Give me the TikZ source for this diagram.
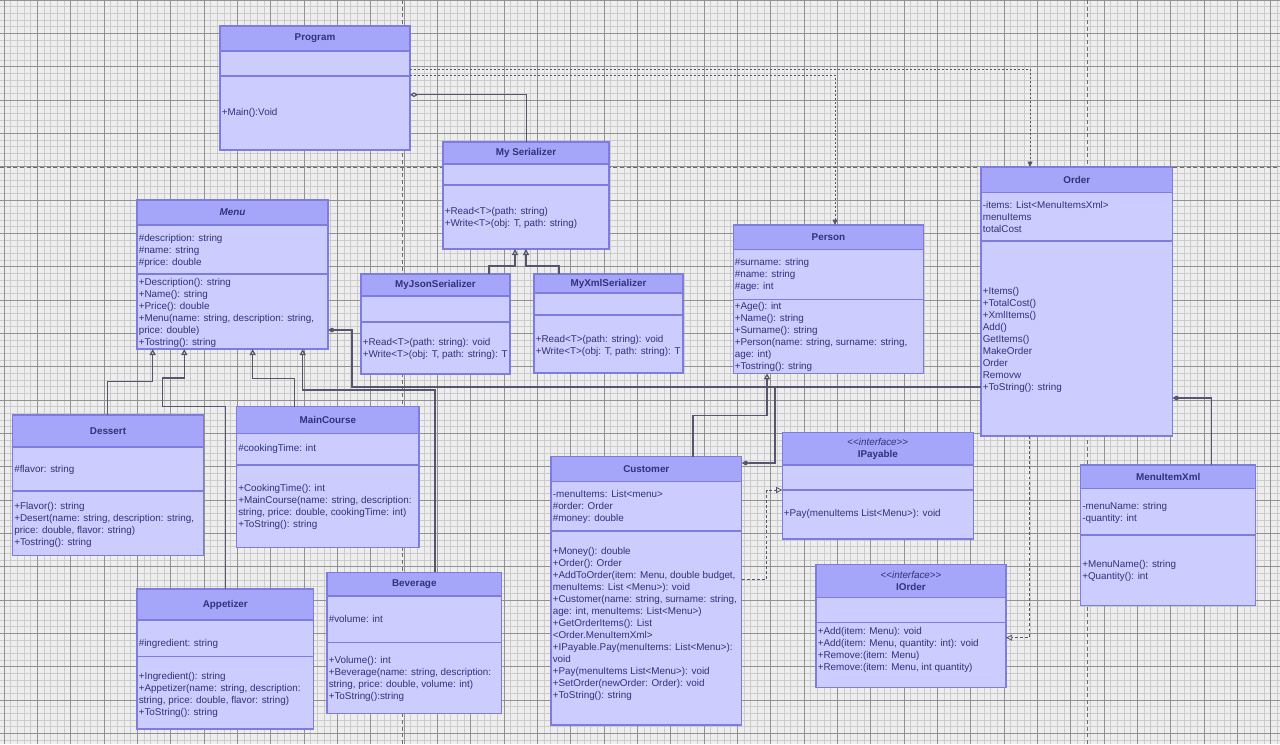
\documentclass[tikz,border=0pt]{standalone}
\usepackage{fontspec}
\setmainfont{Liberation Sans}
\usetikzlibrary{arrows.meta, calc}

\definecolor{bgcol}{RGB}{238,238,238}
\definecolor{minorcol}{RGB}{203,203,203}
\definecolor{majorcol}{RGB}{145,145,145}
\definecolor{breakcol}{RGB}{110,110,110}
\definecolor{bodycol}{RGB}{204,204,255}
\definecolor{headcol}{RGB}{165,165,250}
\definecolor{edgecol}{RGB}{125,125,225}
\definecolor{txtcol}{RGB}{50,50,120}
\definecolor{linkcol}{RGB}{85,85,110}

\tikzset{
  minorgrid/.style={draw=minorcol, line width=0.35pt},
  majorgrid/.style={draw=majorcol, line width=0.7pt},
  pagebreak/.style={draw=breakcol, line width=0.6pt, dash pattern=on 3pt off 2pt},
  clsbox/.style={fill=bodycol, anchor=north west, inner sep=0pt, outer sep=0pt},
  hdfill/.style={fill=headcol},
  sepline/.style={draw=edgecol, line width=1pt},
  edgeline/.style={draw=edgecol, line width=1pt},
  hd/.style={inner sep=0pt, font=\fontsize{7.4}{9}\selectfont\bfseries, text=txtcol},
  hdi/.style={hd, font=\fontsize{7.4}{9}\selectfont\bfseries\itshape},
  ifc/.style={inner sep=0pt, align=center, font=\fontsize{7.4}{9}\selectfont, text=txtcol},
  body/.style={anchor=north west, inner sep=0pt, align=left,
    font=\fontsize{7.4}{9}\selectfont, text=txtcol},
  link/.style={draw=linkcol, line width=0.9pt},
  genl/.style={link, -{Triangle[open, length=4.6pt, width=4.6pt]}},
  comp/.style={link, {Diamond[length=6pt, width=3.6pt]}-},
  aggr/.style={link, {Diamond[open, length=6pt, width=3.6pt]}-},
  dep/.style={link, line width=0.6pt, dash pattern=on 1.5pt off 1.5pt,
    -{Triangle[length=4pt, width=3.6pt]}},
  real/.style={link, line width=0.6pt, dash pattern=on 2.2pt off 1.6pt,
    -{Triangle[open, length=4.6pt, width=4.6pt]}}
}

% class box: name, x, y, width, height, header height, attribute height
\newcommand{\umlbox}[7]{%
  \node[clsbox, minimum width=#4*0.75pt, minimum height=#5*0.75pt] (#1) at (#2,#3) {};
  \fill[hdfill] (#1.north west) rectangle ($(#1.north east)+(0,#6)$);
  \draw[sepline] ($(#1.north west)+(0,#6)$) -- ($(#1.north east)+(0,#6)$)
    ($(#1.north west)+(0,#6+#7)$) -- ($(#1.north east)+(0,#6+#7)$);
  \draw[edgeline] (#1.north west) rectangle (#1.south east);
}

\begin{document}
\begin{tikzpicture}[x=0.75pt,y=-0.75pt]
\useasboundingbox (0,0) rectangle (1280,744);

% background
\fill[bgcol] (0,0) rectangle (1280,744);
\draw[minorgrid] \foreach \k in {0,...,192} {({-2.6667+6.6667*\k},0) -- ++(0,744)};
\draw[minorgrid] \foreach \k in {0,...,112} {(0,{6.6667*\k}) -- ++(1280,0)};
\draw[majorgrid] \foreach \k in {0,...,38} {({4+33.3333*\k},0) -- ++(0,744)};
\draw[majorgrid] \foreach \k in {0,...,22} {(0,{33.3333*\k}) -- ++(1280,0)};
\draw[pagebreak] (402,0) -- (402,744);
\draw[pagebreak] (1087,0) -- (1087,744);
\draw[pagebreak] (0,167) -- (1280,167);

% boxes
\umlbox{program}{220}{26}{190}{124}{25}{25}
\umlbox{myser}{443}{142}{166}{107}{22}{21}
\umlbox{myjson}{361}{274}{149}{100}{22}{26}
\umlbox{myxml}{534}{274}{149}{99}{19}{22}
\umlbox{menu}{137}{200}{191}{149}{25}{49}
\umlbox{dessert}{12.7}{415}{190.6}{140.7}{32}{44}
\umlbox{maincourse}{236.7}{406.7}{182.3}{141}{26.6}{31.7}
\umlbox{appetizer}{137}{589}{176.7}{140}{31}{36.7}
\umlbox{beverage}{327}{572.3}{174.7}{141}{23.7}{46.7}
\umlbox{person}{733.2}{225}{190.4}{148.3}{24.3}{50}
\umlbox{order}{981}{167}{191.5}{269}{25.3}{48.7}
\umlbox{mixml}{1080.7}{465}{175}{140.7}{23.3}{46.7}
\umlbox{customer}{551}{456.7}{190.7}{268.3}{25}{49.3}
\umlbox{ipay}{782.3}{432.3}{191}{106.7}{32.7}{25}
\umlbox{iorder}{816}{564.7}{190}{123}{32.6}{25}

% titles
\node[hd] (program-h) at (315,38.5) {Program};
\node[hd] (myser-h) at (526,153) {My Serializer};
\node[hd] (myjson-h) at (435.5,285) {MyJsonSerializer};
\node[hd] (myxml-h) at (608.5,283.5) {MyXmlSerializer};
\node[hdi] (menu-h) at (232.5,212.5) {Menu};
\node[hd] (dessert-h) at (108,431) {Dessert};
\node[hd] (maincourse-h) at (327.8,420) {MainCourse};
\node[hd] (appetizer-h) at (225.3,604.5) {Appetizer};
\node[hd] (beverage-h) at (414.3,584.2) {Beverage};
\node[hd] (person-h) at (828.4,237.2) {Person};
\node[hd] (order-h) at (1076.8,179.7) {Order};
\node[hd] (mixml-h) at (1168.2,476.7) {MenuItemXml};
\node[hd] (customer-h) at (646.3,469.2) {Customer};
\node[ifc] (ipay-h) at (877.8,448.5) {<\kern0pt<\textit{interface}>\kern0pt>\\\textbf{IPayable}};
\node[ifc] (iorder-h) at (911,580.5) {<\kern0pt<\textit{interface}>\kern0pt>\\\textbf{IOrder}};

% members
\node[body] (program-ops) at (221.5,106.6) {\strut+Main():Void};
\node[body] (myser-ops) at (444.5,205.6) {\strut+Read<T>(path: string)\\+Write<T>(obj: T, path: string)};
\node[body] (myjson-ops) at (362.5,336.6) {\strut+Read<T>(path: string): void\\+Write<T>(obj: T, path: string): T};
\node[body] (myxml-ops) at (535.5,333.6) {\strut+Read<T>(path: string): void\\+Write<T>(obj: T, path: string): T};
\node[body] (menu-attr) at (138.5,233.3) {\strut\#description: string\\\#name: string\\\#price: double};
\node[body] (menu-ops) at (138.5,276.6) {\strut+Description(): string\\+Name(): string\\+Price(): double\\+Menu(name: string, description: string,\\price: double)\\+Tostring(): string};
\node[body] (dessert-attr) at (14,463.6) {\strut\#flavor: string};
\node[body] (dessert-ops) at (14,500.6) {\strut+Flavor(): string\\+Desert(name: string, description: string,\\price: double, flavor: string)\\+Tostring(): string};
\node[body] (maincourse-attr) at (238,443.3) {\strut\#cookingTime: int};
\node[body] (maincourse-ops) at (238,483.3) {\strut+CookingTime(): int\\+MainCourse(name: string, description:\\string, price: double, cookingTime: int)\\+ToString(): string};
\node[body] (appetizer-attr) at (138.5,637.9) {\strut\#ingredient: string};
\node[body] (appetizer-ops) at (138.5,670.6) {\strut+Ingredient(): string\\+Appetizer(name: string, description:\\string, price: double, flavor: string)\\+ToString(): string};
\node[body] (beverage-attr) at (328.5,613.9) {\strut\#volume: int};
\node[body] (beverage-ops) at (328.5,654.9) {\strut+Volume(): int\\+Beverage(name: string, description:\\string, price: double, volume: int)\\+ToString():string};
\node[body] (person-attr) at (734.5,257.3) {\strut\#surname: string\\\#name: string\\\#age: int};
\node[body] (person-ops) at (734.5,301.3) {\strut+Age(): int\\+Name(): string\\+Surname(): string\\+Person(name: string, surname: string,\\age: int)\\+Tostring(): string};
\node[body] (order-attr) at (982.5,199.6) {\strut-items: List<MenuItemsXml>\\menuItems\\totalCost};
\node[body] (order-ops) at (982.5,286.3) {\strut+Items()\\+TotalCost()\\+XmlItems()\\Add()\\GetItems()\\MakeOrder\\Order\\Removw\\+ToString(): string};
\node[body] (mixml-attr) at (1082,500.6) {\strut-menuName: string\\-quantity: int};
\node[body] (mixml-ops) at (1082,558.9) {\strut+MenuName(): string\\+Quantity(): int};
\node[body] (customer-attr) at (552.5,488.6) {\strut-menuItems: List<menu>\\\#order: Order\\\#money: double};
\node[body] (customer-ops) at (552.5,546.3) {\strut+Money(): double\\+Order(): Order\\+AddToOrder(item: Menu, double budget,\\menuItems: List <Menu>): void\\+Customer(name: string, surname: string,\\age: int, menuItems: List<Menu>)\\+GetOrderItems(): List\\<Order.MenuItemXml>\\+IPayable.Pay(menuItems: List<Menu>):\\void\\+Pay(menuItems List<Menu>): void\\+SetOrder(newOrder: Order): void\\+ToString(): string};
\node[body] (ipay-ops) at (783.5,508.3) {\strut+Pay(menuItems List<Menu>): void};
\node[body] (iorder-ops) at (817.5,626.3) {\strut+Add(item: Menu): void\\+Add(item: Menu, quantity: int): void\\+Remove:(item: Menu)\\+Remove:(item: Menu, int quantity)};

% connectors
\draw[aggr] ($(program.north east)+(0,68.7)$) -| ($(myser.north west)+(83.3,0)$);
\draw[dep] ($(program.north east)+(0,43)$) -| ($(order.north west)+(49,0)$);
\draw[dep] ($(program.north east)+(0,49)$) -| ($(person.north west)+(101.8,0)$);
\draw[genl] ($(myjson.north west)+(128,0)$) |- ($(myser.south west)+(72,17)$) -- ($(myser.south west)+(72,0)$);
\draw[genl] ($(myxml.north west)+(25,0)$) |- ($(myser.south west)+(83,17)$) -- ($(myser.south west)+(83,0)$);
\draw[genl] ($(dessert.north west)+(94.6,0)$) |- ($(menu.south west)+(15.7,32.7)$) -- ($(menu.south west)+(15.7,0)$);
\draw[genl] ($(appetizer.north west)+(88.7,0)$) |- ($(menu.south west)+(25.3,57.7)$) |- ($(menu.south west)+(47.3,29)$) -- ($(menu.south west)+(47.3,0)$);
\draw[genl] ($(maincourse.north west)+(57.6,0)$) |- ($(menu.south west)+(115.7,29.3)$) -- ($(menu.south west)+(115.7,0)$);
\draw[genl] ($(beverage.north west)+(108,0)$) |- ($(menu.south west)+(165.7,41)$) -- ($(menu.south west)+(165.7,0)$);
\draw[comp] ($(menu.north east)+(0,130)$) -| ($(menu.north east)+(24,187)$) -- ($(order.north west)+(0,220)$);
\draw[comp] ($(customer.north east)+(0,6.3)$) -| ($(order.north west)+(-206,220)$) -- ($(order.north west)+(0,220)$);
\draw[genl] ($(customer.north west)+(142,0)$) |- ($(person.south west)+(33.8,42)$) -- ($(person.south west)+(33.8,0)$);
\draw[comp] ($(order.north east)+(0,231)$) -| ($(mixml.north west)+(131,0)$);
\draw[real] ($(customer.north east)+(0,122.6)$) -| ($(ipay.north west)+(-15.6,57.7)$) -- ($(ipay.north west)+(0,57.7)$);
\draw[real] ($(order.south west)+(48.3,0)$) |- ($(iorder.north east)+(0,73)$);
\end{tikzpicture}
\end{document}
